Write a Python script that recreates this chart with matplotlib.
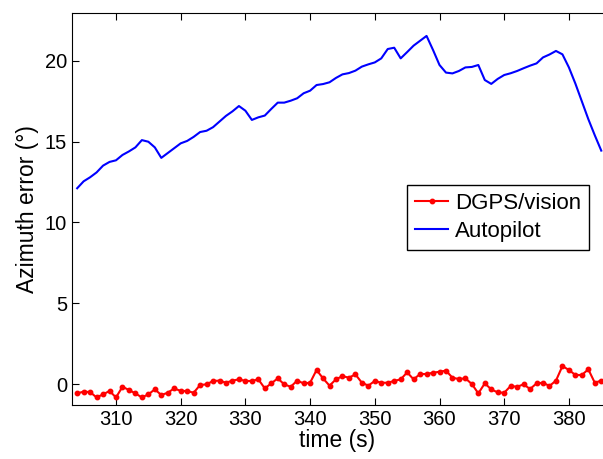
from matplotlib import pyplot as plt
import numpy as np

plt.rcParams['font.family'] = ['Liberation Sans', 'DejaVu Sans']

# temps (s), une mesure par seconde
temps = np.arange(304, 386)

autopilot = [12.12, 12.55, 12.8, 13.1, 13.52, 13.75, 13.85, 14.18, 14.4, 14.65,
             15.1, 15.0, 14.65, 14.0, 14.3, 14.6, 14.9, 15.05, 15.3, 15.6,
             15.68, 15.9, 16.25, 16.6, 16.88, 17.21, 16.92, 16.35, 16.51, 16.62,
             17.03, 17.42, 17.42, 17.54, 17.69, 18.0, 18.16, 18.51, 18.57, 18.68,
             18.95, 19.17, 19.25, 19.4, 19.65, 19.79, 19.91, 20.16, 20.74, 20.82,
             20.16, 20.55, 20.95, 21.25, 21.55, 20.68, 19.75, 19.28, 19.23, 19.38,
             19.6, 19.63, 19.75, 18.82, 18.58, 18.89, 19.13, 19.24, 19.38, 19.55,
             19.71, 19.85, 20.22, 20.4, 20.62, 20.41, 19.6, 18.6, 17.5, 16.4,
             15.4, 14.45]

dgps_vision = [-0.58, -0.47, -0.5, -0.83, -0.64, -0.43, -0.83, -0.17, -0.37, -0.58,
               -0.83, -0.64, -0.33, -0.68, -0.54, -0.27, -0.43, -0.43, -0.54, -0.06,
               -0.02, 0.19, 0.21, 0.08, 0.21, 0.29, 0.19, 0.19, 0.29, -0.27,
               0.04, 0.35, -0.02, -0.17, 0.21, 0.04, 0.08, 0.87, 0.35, -0.10,
               0.29, 0.49, 0.39, 0.60, 0.08, -0.10, 0.19, 0.08, 0.08, 0.19,
               0.29, 0.72, 0.29, 0.62, 0.62, 0.70, 0.76, 0.83, 0.39, 0.31,
               0.35, 0.0, -0.58, 0.04, -0.33, -0.52, -0.54, -0.12, -0.17, -0.02,
               -0.31, 0.04, 0.08, -0.12, 0.21, 1.11, 0.87, 0.56, 0.56, 0.91,
               0.08, 0.21]

fig = plt.figure(figsize=(6.03, 4.59), dpi=100)
ax = fig.add_axes([0.1194, 0.1176, 0.8806, 0.8534])

ax.plot(temps, dgps_vision, color='red', marker='o', markersize=3.2, linewidth=1.5,
        label='DGPS/vision')
ax.plot(temps, autopilot, color='blue', linewidth=1.5, label='Autopilot')

ax.set_xlim(303.2, 385.27)
ax.set_ylim(-1.3, 22.95)
ax.set_xticks([310, 320, 330, 340, 350, 360, 370, 380])
ax.set_yticks([0, 5, 10, 15, 20])
ax.tick_params(direction='in', top=True, right=False, labelsize=14.5, length=5)
ax.spines['right'].set_visible(False)
ax.set_xlabel('time (s)', fontsize=16.5, labelpad=0)
ax.set_ylabel('Azimuth error (°)', fontsize=16.5, labelpad=4)

leg = ax.legend(loc='upper right', bbox_to_anchor=(589 / 603, 1 - 185 / 459),
                bbox_transform=fig.transFigure, borderaxespad=0, numpoints=1,
                fancybox=False, framealpha=1, edgecolor='black', fontsize=16,
                handlelength=1.5, handletextpad=0.3, borderpad=0.35,
                labelspacing=0.32)
leg.get_frame().set_linewidth(1.0)

plt.savefig('out.png', dpi=100)
